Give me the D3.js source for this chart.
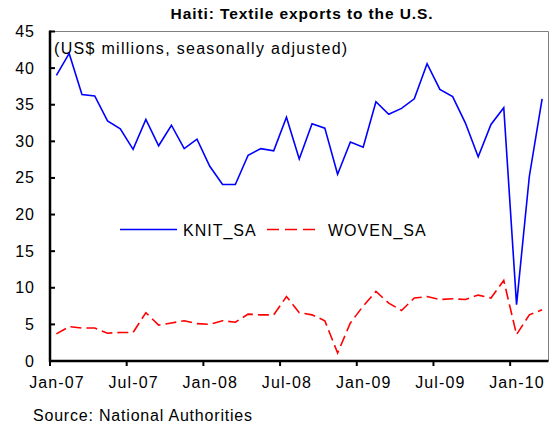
<!DOCTYPE html>
<html>
<head>
<meta charset="utf-8">
<script src="https://cdn.jsdelivr.net/npm/d3@7"></script>
<style>
  body { margin: 0; background: #fff; }
  text { font-family: "Liberation Sans", Arial, sans-serif; fill: #000; }
</style>
</head>
<body>
<svg id="chart" width="552" height="427"></svg>
<script>
//==========================
//  Data
//==========================
var months = d3.timeMonth.range(new Date(2007, 0, 1), new Date(2010, 3, 1)).map(d3.timeFormat("%b-%y"));
var tickLabels = ["Jan-07", "Jul-07", "Jan-08", "Jul-08", "Jan-09", "Jul-09", "Jan-10"];
var yTicks = [0, 5, 10, 15, 20, 25, 30, 35, 40, 45];

var knit = [39.0, 42.0, 36.4, 36.2, 32.8, 31.7, 28.9, 33.0, 29.4, 32.2, 29.0, 30.3,
            26.6, 24.1, 24.1, 28.1, 29.0, 28.7, 33.3, 27.6, 32.4, 31.8, 25.5, 29.9,
            29.2, 35.4, 33.7, 34.5, 35.8, 40.6, 37.1, 36.1, 32.5, 27.9, 32.3, 34.6,
            7.7, 25.2, 35.8];
var woven = [3.7, 4.7, 4.5, 4.5, 3.8, 3.9, 3.9, 6.6, 4.9, 5.2, 5.5, 5.1,
             5.0, 5.5, 5.3, 6.4, 6.3, 6.3, 8.8, 6.6, 6.3, 5.5, 1.1, 5.2,
             7.5, 9.5, 7.9, 6.9, 8.6, 8.8, 8.4, 8.5, 8.4, 9.0, 8.6, 11.0,
             3.6, 6.3, 7.0];

//==========================
//  Canvas and scales
//==========================
var svg = d3.select("#chart");
var plotLeft = 50, plotRight = 548.5, plotTop = 31.5, plotBottom = 361;//("top" is taken by window.top)

var x = d3.scaleBand().domain(months).range([plotLeft, plotRight]);//one band per month
var y = d3.scaleLinear().domain([0, 45]).range([plotBottom, plotTop]);

function cx(i) { return x(months[i]) + x.bandwidth() / 2; }//center of a month's band

//Title
svg.append("text")
  .attr("x", 302).attr("y", 19)
  .attr("text-anchor", "middle")
  .style("font-size", "15.5px").style("font-weight", "bold").style("letter-spacing", "0.9px")
  .text("Haiti: Textile exports to the U.S.");

//Plot frame (top and right edges)
svg.append("path")
  .attr("d", "M" + plotLeft + "," + plotTop + "H" + plotRight + "V" + plotBottom)
  .attr("fill", "none").attr("stroke", "#808080").attr("stroke-width", 1);

//Subtitle inside the plot
svg.append("text")
  .attr("x", 54).attr("y", 54)
  .style("font-size", "16px").style("letter-spacing", "1.3px")
  .text("(US$ millions, seasonally adjusted)");

//==========================
//  Axes
//==========================
var yAxis = svg.append("g");
yAxis.append("line")
  .attr("x1", plotLeft).attr("x2", plotLeft).attr("y1", plotTop - 1).attr("y2", plotBottom + 1)
  .attr("stroke", "#000").attr("stroke-width", 2.5);
yAxis.selectAll(".tk").data(yTicks).enter().append("line")
  .attr("x1", plotLeft).attr("x2", plotLeft + 5)
  .attr("y1", function(d) { return y(d); }).attr("y2", function(d) { return y(d); })
  .attr("stroke", "#000").attr("stroke-width", 2);
yAxis.selectAll(".lb").data(yTicks).enter().append("text")
  .attr("x", 35).attr("y", function(d) { return y(d) + 5.5; })
  .attr("text-anchor", "end")
  .style("font-size", "16px").style("letter-spacing", "1px")
  .text(function(d) { return d; });

var xAxis = svg.append("g");
xAxis.append("line")
  .attr("x1", plotLeft - 1).attr("x2", plotRight).attr("y1", plotBottom).attr("y2", plotBottom)
  .attr("stroke", "#000").attr("stroke-width", 2.5);
xAxis.selectAll(".tk").data(tickLabels).enter().append("line")
  .attr("x1", function(d) { return x(d); }).attr("x2", function(d) { return x(d); })
  .attr("y1", plotBottom).attr("y2", plotBottom + 5)
  .attr("stroke", "#000").attr("stroke-width", 2);
xAxis.selectAll(".lb").data(tickLabels).enter().append("text")
  .attr("x", function(d) { return x(d) + x.bandwidth() / 2 + 0.5; }).attr("y", 388)
  .attr("text-anchor", "middle")
  .style("font-size", "16px").style("letter-spacing", "1.1px")
  .text(function(d) { return d; });

//==========================
//  Lines
//==========================
var line = d3.line()
  .x(function(d, i) { return cx(i); })
  .y(function(d) { return y(d); });

svg.append("path").datum(knit)
  .attr("d", line).attr("fill", "none")
  .attr("stroke", "#0000ff").attr("stroke-width", 1.6);

svg.append("path").datum(woven)
  .attr("d", line).attr("fill", "none")
  .attr("stroke", "#ff0000").attr("stroke-width", 1.6)
  .attr("stroke-dasharray", "11,5");

//==========================
//  Legend
//==========================
svg.append("line").attr("x1", 120).attr("x2", 177).attr("y1", 229.5).attr("y2", 229.5)
  .attr("stroke", "#0000ff").attr("stroke-width", 1.6);
svg.append("text").attr("x", 183).attr("y", 235.5)
  .style("font-size", "16px").style("letter-spacing", "1px").text("KNIT_SA");
svg.append("line").attr("x1", 267).attr("x2", 315).attr("y1", 229.5).attr("y2", 229.5)
  .attr("stroke", "#ff0000").attr("stroke-width", 1.6).attr("stroke-dasharray", "12,6");
svg.append("text").attr("x", 328).attr("y", 235.5)
  .style("font-size", "16px").style("letter-spacing", "1px").text("WOVEN_SA");

//Source note
svg.append("text").attr("x", 33).attr("y", 421)
  .style("font-size", "16px").style("letter-spacing", "0.8px")
  .text("Source: National Authorities");
</script>
</body>
</html>
